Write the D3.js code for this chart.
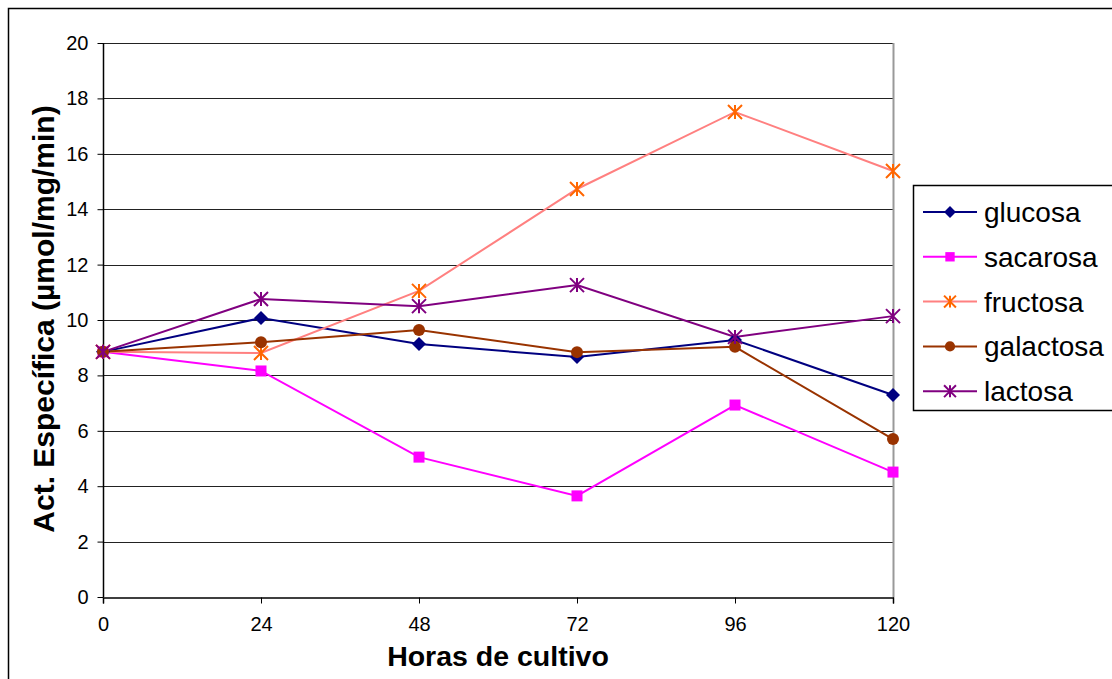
<!DOCTYPE html>
<html>
<head>
<meta charset="utf-8">
<script src="https://cdn.jsdelivr.net/npm/d3@7"></script>
<style>
  body { margin: 0; background: #fff; }
  svg { display: block; font-family: Arial, "Liberation Sans", sans-serif; }
</style>
</head>
<body>
<div id="chart"></div>
<script>
// data
var hours = [0, 24, 48, 72, 96, 120];
var yTicks = [0, 2, 4, 6, 8, 10, 12, 14, 16, 18, 20];
var glucosa   = [8.85, 10.07, 9.13, 8.66, 9.28, 7.29];
var sacarosa  = [8.85, 8.16, 5.05, 3.65, 6.93, 4.51];
var fructosa  = [8.85, 8.81, 11.05, 14.73, 17.51, 15.38];
var galactosa = [8.85, 9.20, 9.64, 8.84, 9.03, 5.70];
var lactosa   = [8.85, 10.76, 10.50, 11.26, 9.39, 10.14];

var series = [
    {name: "glucosa", values: glucosa, line: "#000080", fill: "#000080", marker: "diamond"},
    {name: "sacarosa", values: sacarosa, line: "#FF00FF", fill: "#FF00FF", marker: "square"},
    {name: "fructosa", values: fructosa, line: "#FF8080", fill: "#FF6600", marker: "star"},
    {name: "galactosa", values: galactosa, line: "#993300", fill: "#993300", marker: "circle"},
    {name: "lactosa", values: lactosa, line: "#800080", fill: "#800080", marker: "star"}
];

var width = 1112, height = 679;
var svg = d3.select("#chart").append("svg")
    .attr("width", width)
    .attr("height", height);

// outer chart frame (runs off the right/bottom edge)
svg.append("rect")
    .attr("x", 8.5).attr("y", 8.5)
    .attr("width", 1120).attr("height", 700)
    .attr("fill", "none")
    .attr("stroke", "#000")
    .attr("stroke-width", 1.5);

var x = d3.scaleLinear().domain([0, 120]).range([103, 893]);
var y = d3.scaleLinear().domain([0, 20]).range([597, 43]);

// gridlines
svg.append("g").selectAll("line")
    .data(yTicks.filter(function(d){ return d > 0; }))
    .enter().append("line")
    .attr("x1", x(0)).attr("x2", x(120))
    .attr("y1", function(d){ return Math.round(y(d)) + 0.5; })
    .attr("y2", function(d){ return Math.round(y(d)) + 0.5; })
    .attr("stroke", "#222")
    .attr("stroke-width", 1);

// plot area right border
svg.append("line")
    .attr("x1", x(120) + 0.5).attr("x2", x(120) + 0.5)
    .attr("y1", y(20)).attr("y2", y(0))
    .attr("stroke", "#999").attr("stroke-width", 2);

// axes
var yAxis = d3.axisLeft(y).tickValues(yTicks).tickSize(6).tickPadding(9);
var gy = svg.append("g")
    .attr("transform", "translate(" + (x(0) + 0.5) + ",0)")
    .call(yAxis);
var xAxis = d3.axisBottom(x).tickValues(hours).tickSize(6).tickPadding(13);
var gx = svg.append("g")
    .attr("transform", "translate(0," + (y(0) + 0.5) + ")")
    .call(xAxis);
[gx, gy].forEach(function(g){
    g.attr("font-size", null).attr("font-family", null);
    g.select(".domain").attr("stroke", "#000").attr("stroke-width", 1.5);
    g.selectAll(".tick line").attr("stroke", "#000");
    g.selectAll(".tick text")
        .attr("fill", "#000")
        .style("font-size", "20px");
});
gy.select(".domain").attr("d", "M0," + y(20) + "V" + y(0));

// axis titles
svg.append("text")
    .attr("x", x(60)).attr("y", 666)
    .attr("text-anchor", "middle")
    .style("font-size", "28.5px")
    .style("font-weight", "bold")
    .text("Horas de cultivo");

svg.append("text")
    .attr("transform", "translate(54," + 319 + ") rotate(-90)")
    .attr("text-anchor", "middle")
    .style("font-size", "30px")
    .style("font-weight", "bold")
    .text("Act. Específica (µmol/mg/min)");

// marker drawing
function drawMarker(g, s, cx, cy, scale) {
    scale = scale || 1;
    if (s.marker == "diamond") {
        var r = 7 * scale;
        g.append("path")
            .attr("d", "M" + cx + "," + (cy - r) + "L" + (cx + r) + "," + cy + "L" + cx + "," + (cy + r) + "L" + (cx - r) + "," + cy + "Z")
            .attr("fill", s.fill);
    } else if (s.marker == "square") {
        var h = 5.5 * scale;
        g.append("rect")
            .attr("x", cx - h).attr("y", cy - h)
            .attr("width", 2 * h).attr("height", 2 * h)
            .attr("fill", s.fill);
    } else if (s.marker == "circle") {
        g.append("circle")
            .attr("cx", cx).attr("cy", cy).attr("r", 6 * scale)
            .attr("fill", s.fill);
    } else {
        var a = 7 * scale;
        var d = "M" + (cx - a) + "," + (cy - a) + "L" + (cx + a) + "," + (cy + a) +
                "M" + (cx - a) + "," + (cy + a) + "L" + (cx + a) + "," + (cy - a) +
                "M" + cx + "," + (cy - a) + "L" + cx + "," + (cy + a);
        g.append("path").attr("d", d)
            .attr("stroke", s.fill).attr("stroke-width", 2).attr("fill", "none");
    }
}

var line = d3.line()
    .x(function(d, i){ return x(hours[i]); })
    .y(function(d){ return y(d); });

var plot = svg.append("g");
series.forEach(function(s){
    plot.append("path")
        .attr("d", line(s.values))
        .attr("fill", "none")
        .attr("stroke", s.line)
        .attr("stroke-width", 2);
});
series.forEach(function(s){
    var g = plot.append("g");
    s.values.forEach(function(v, i){
        drawMarker(g, s, x(hours[i]), y(v));
    });
});

// legend
var legend = svg.append("g");
legend.append("rect")
    .attr("x", 913.5).attr("y", 185.5)
    .attr("width", 210).attr("height", 225)
    .attr("fill", "#fff")
    .attr("stroke", "#000")
    .attr("stroke-width", 1.5);
series.forEach(function(s, i){
    var ly = 212 + i * 44.8;
    var g = legend.append("g");
    g.append("line")
        .attr("x1", 923).attr("x2", 977)
        .attr("y1", ly).attr("y2", ly)
        .attr("stroke", s.line).attr("stroke-width", 2);
    drawMarker(g, s, 950, ly, 0.85);
    g.append("text")
        .attr("x", 984).attr("y", ly + 10)
        .style("font-size", "28px")
        .text(s.name);
});
</script>
</body>
</html>
